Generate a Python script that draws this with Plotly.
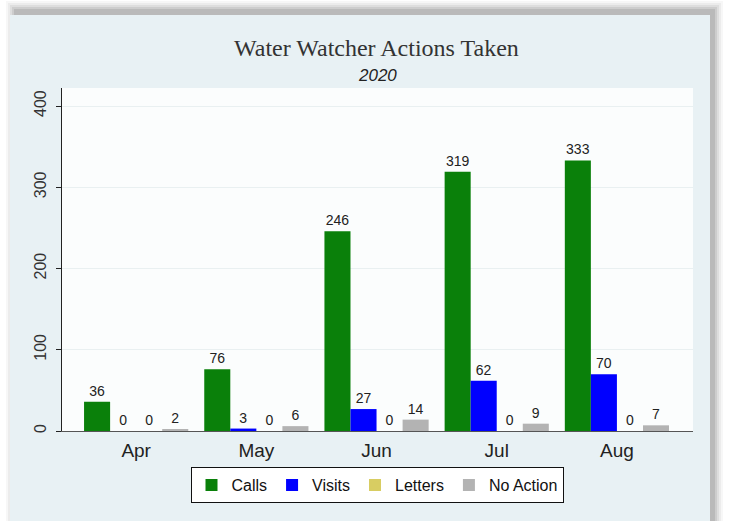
import plotly.graph_objects as go

# Monthly counts of Water Watcher actions, 2020
months = ["Apr", "May", "Jun", "Jul", "Aug"]
calls = [36, 76, 246, 319, 333]
visits = [0, 3, 27, 62, 70]
letters = [0, 0, 0, 0, 0]
no_action = [2, 6, 14, 9, 7]

series = [
    ("Calls", calls, "#0a800a"),
    ("Visits", visits, "#0000ff"),
    ("Letters", letters, "#d8cd62"),
    ("No Action", no_action, "#b3b3b3"),
]

W, H = 737, 521
ML, MR, MT, MB = 62, 44, 88, 90
PW, PH = W - ML - MR, H - MT - MB
SANS = "Liberation Sans, Arial, sans-serif"


def px_x(p):
    return (p - ML) / PW


def px_y(p):
    return (H - MB - p) / PH


fig = go.Figure()
for name, vals, color in series:
    fig.add_trace(go.Bar(
        name=name, x=months, y=vals,
        marker=dict(color=color, line=dict(width=0)),
        text=[str(v) for v in vals], textposition="outside",
        textfont=dict(family=SANS, size=14, color="#222"),
        cliponaxis=False,
    ))

shapes = []
# soft drop shadow behind the panel
for pad, alpha in [(9, 0.04), (7, 0.06), (5, 0.08), (3, 0.10), (1, 0.13)]:
    shapes.append(dict(
        type="rect", xref="paper", yref="paper", layer="below",
        x0=px_x(15 - pad), x1=px_x(714 + pad), y0=px_y(540), y1=px_y(10 - pad),
        fillcolor=f"rgba(60,60,60,{alpha})", line=dict(width=0)))
# panel
shapes.append(dict(
    type="rect", xref="paper", yref="paper", layer="below",
    x0=px_x(10), x1=px_x(710), y0=px_y(540), y1=px_y(15),
    fillcolor="#e8f1f4", line=dict(width=0)))
# plot region
shapes.append(dict(
    type="rect", xref="paper", yref="paper", layer="below",
    x0=0, x1=1, y0=0, y1=1,
    fillcolor="#fbfdfd", line=dict(width=0)))

annotations = [
    dict(text="Water Watcher Actions Taken", xref="paper", yref="paper",
         x=px_x(376), y=px_y(48), xanchor="center", yanchor="middle", showarrow=False,
         font=dict(family="Liberation Serif, Times New Roman, serif", size=24, color="#333")),
    dict(text="<i>2020</i>", xref="paper", yref="paper",
         x=px_x(377), y=px_y(76), xanchor="center", yanchor="middle", showarrow=False,
         font=dict(family=SANS, size=17, color="#222")),
]

fig.update_layout(
    width=W, height=H,
    margin=dict(l=ML, r=MR, t=MT, b=MB, pad=0),
    paper_bgcolor="white", plot_bgcolor="rgba(0,0,0,0)",
    barmode="group", bargap=0.133, bargroupgap=0,
    shapes=shapes, annotations=annotations,
    showlegend=True,
    legend=dict(
        orientation="h", x=px_x(377), y=px_y(467), xanchor="center", yanchor="top",
        bgcolor="white", bordercolor="#111", borderwidth=1,
        font=dict(family=SANS, size=16, color="#111"),
        itemwidth=30, traceorder="normal",
    ),
    xaxis=dict(
        type="category", range=[-0.617, 4.633],
        showline=True, linecolor="#555", linewidth=1,
        ticks="", showgrid=False, zeroline=False,
        ticklabelstandoff=2,
        tickfont=dict(family=SANS, size=19, color="#222"),
    ),
    yaxis=dict(
        range=[0, 422.2], tickvals=[0, 100, 200, 300, 400],
        showline=True, linecolor="#222", linewidth=1,
        ticks="outside", ticklen=5, tickcolor="#222",
        tickangle=-90, ticklabelstandoff=4,
        showgrid=True, gridcolor="#e9f0f1", gridwidth=1, zeroline=False,
        tickfont=dict(family=SANS, size=16, color="#333"),
    ),
)

fig.write_html("out.html")
